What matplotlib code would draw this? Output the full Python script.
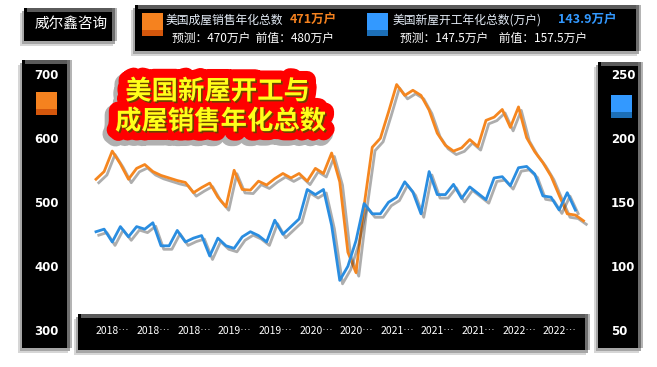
import matplotlib
matplotlib.use('Agg')
import matplotlib.pyplot as plt
import matplotlib.patheffects as pe
from matplotlib.patches import Rectangle
import numpy as np

plt.rcParams['font.family'] = ['Noto Sans CJK SC', 'DejaVu Sans']

# 美国成屋销售年化总数 (万户)
sales = [536, 548, 580, 560, 536, 553, 559, 548, 542, 538,
         534, 531, 515, 523, 530, 508, 493, 550, 520, 519,
         533, 527, 537, 545, 538, 545, 533, 553, 545, 577,
         532, 422, 390, 495, 586, 600, 641, 684, 667, 675,
         667, 644, 608, 589, 580, 585, 598, 587, 628, 633,
         645, 617, 649, 601, 579, 562, 541, 511, 482, 480, 471]
# 美国新屋开工年化总数 (万户)
starts = [127, 129, 119, 131, 123, 131, 129, 134, 116, 116,
          128, 119, 122, 124, 108, 122, 116, 114, 123, 127,
          124, 119, 136, 125, 131, 137, 160, 156, 160, 132,
          89, 100, 120, 149, 141, 141, 150, 154, 166, 158,
          141, 174, 156, 156, 164, 153, 162, 157, 152, 169,
          170, 163, 177, 178, 172, 155, 154, 144, 157.5, 143.9]

x_labels = ['2018…', '2018…', '2018…', '2019…', '2019…', '2020…',
            '2020…', '2021…', '2021…', '2021…', '2022…', '2022…']
sales_ticks = [300, 400, 500, 600, 700]
starts_ticks = [50, 100, 150, 200, 250]
sales_fc = 470
starts_fc = 147.5

ORANGE = '#f5861f'
BLUE = '#2a8de0'

W, H = 657, 367
fig = plt.figure(figsize=(W / 100, H / 100), dpi=100)

# background layer in pixel coordinates
bg = fig.add_axes([0, 0, 1, 1], zorder=-1)
bg.set_xlim(0, W)
bg.set_ylim(H, 0)
bg.axis('off')


def panel(x, y, w, h):
    bg.add_patch(Rectangle((x - 4, y + 5), w, h, fc='#d6d6d6', lw=0))
    bg.add_patch(Rectangle((x - 2, y + 3), w, h, fc='#a6a6a6', lw=0))
    bg.add_patch(Rectangle((x, y), w, h, fc='black', lw=0))
    bg.add_patch(Rectangle((x + 3, y), w - 3, 4, fc='#5a5a5a', lw=0))
    bg.add_patch(Rectangle((x + w - 5, y), 3, h, fc='#6e6e6e', lw=0))
    bg.add_patch(Rectangle((x + w - 2, y), 2, h, fc='#b4b4b4', lw=0))


def swatch(x, y, color, dark):
    bg.add_patch(Rectangle((x, y), 21, 23, fc=color, lw=0))
    bg.add_patch(Rectangle((x, y + 17), 21, 6, fc=dark, lw=0))


panel(24, 8, 93, 33)
panel(135, 5, 506, 46)
panel(22, 60, 50, 288)
panel(598, 62, 45, 286)
panel(78, 314, 512, 36)

swatch(142, 13, '#f5821f', '#d4570c')
swatch(367, 13, '#3399ff', '#1c6fb8')
swatch(36, 92, '#f5821f', '#d4570c')
swatch(611, 95, '#3399ff', '#1c6fb8')

bg.text(71, 24, '威尔鑫咨询', color='white', fontsize=10.5, ha='center', va='center')

bg.text(166, 20, '美国成屋销售年化总数', color='#e4ecf6', fontsize=8.5, va='center')
bg.text(290, 20, f'{sales[-1]:g}万户', color='#f5821f', fontsize=9, weight='bold', va='center')
bg.text(172, 38.5, f'预测：{sales_fc:g}万户  前值：{sales[-2]:g}万户', color='white',
        fontsize=8.5, va='center')

bg.text(393, 20, '美国新屋开工年化总数(万户)', color='#e4ecf6', fontsize=8.5, va='center')
bg.text(558, 20, f'{starts[-1]:g}万户', color='#3399ff', fontsize=9, weight='bold', va='center')
bg.text(400, 38.5, f'预测：{starts_fc:g}万户    前值：{starts[-2]:g}万户', color='white',
        fontsize=8.5, va='center')

# main chart
step = 8.125
ax = fig.add_axes([85 / W, 1 - 340 / H, 507 / W, 278 / H])
ax.patch.set_visible(False)
ax.set_xlim(-11 / step, 496 / step)
ax.set_ylim(284.8, 719.2)

shadow = [pe.SimpleLineShadow(offset=(2, -2.5), shadow_color='#333333', alpha=0.4), pe.Normal()]
ax.plot(np.arange(len(sales)), sales, color=ORANGE, lw=2, path_effects=shadow, solid_joinstyle='round')

ax2 = ax.twinx()
ax2.set_ylim(42.4, 259.6)
ax2.plot(np.arange(len(starts)), starts, color=BLUE, lw=2, path_effects=shadow, solid_joinstyle='round')

for a in (ax, ax2):
    for s in a.spines.values():
        s.set_visible(False)

ax.set_yticks(sales_ticks)
ax.tick_params(axis='y', length=0, pad=19, labelsize=8.5, labelcolor='white')
ax2.set_yticks(starts_ticks)
ax2.tick_params(axis='y', length=0, pad=13.5, labelsize=8.5, labelcolor='white')
for t in ax.get_yticklabels() + ax2.get_yticklabels():
    t.set_fontweight('bold')
    t.set_family('DejaVu Sans')

ax.set_xticks(range(0, 60, 5))
ax.set_xticklabels(x_labels, ha='left', va='center', fontsize=7.5, color='white')
ax.tick_params(axis='x', length=0, pad=-6.5)

# title blob
title_lines = [('美国新屋开工与', 217.5, 91.7), ('成屋销售年化总数', 220.5, 121.7)]
for txt, px, py in title_lines:
    fig.text(px / W, 1 - py / H, txt, fontsize=19, weight='bold', color='red',
             ha='center', va='center', zorder=10,
             path_effects=[pe.Stroke(linewidth=15, foreground='#b0b0b0', offset=(-2, -3)),
                           pe.Stroke(linewidth=13, foreground='red'), pe.Normal()])
for txt, px, py in title_lines:
    fig.text(px / W, 1 - py / H, txt, fontsize=19, weight='bold', color='#ffff1a',
             ha='center', va='center', zorder=11,
             path_effects=[pe.SimplePatchShadow(offset=(1.2, -1.2), shadow_rgbFace='#5a4a00', alpha=0.9),
                           pe.Normal()])

fig.savefig('out.png', dpi=100)
